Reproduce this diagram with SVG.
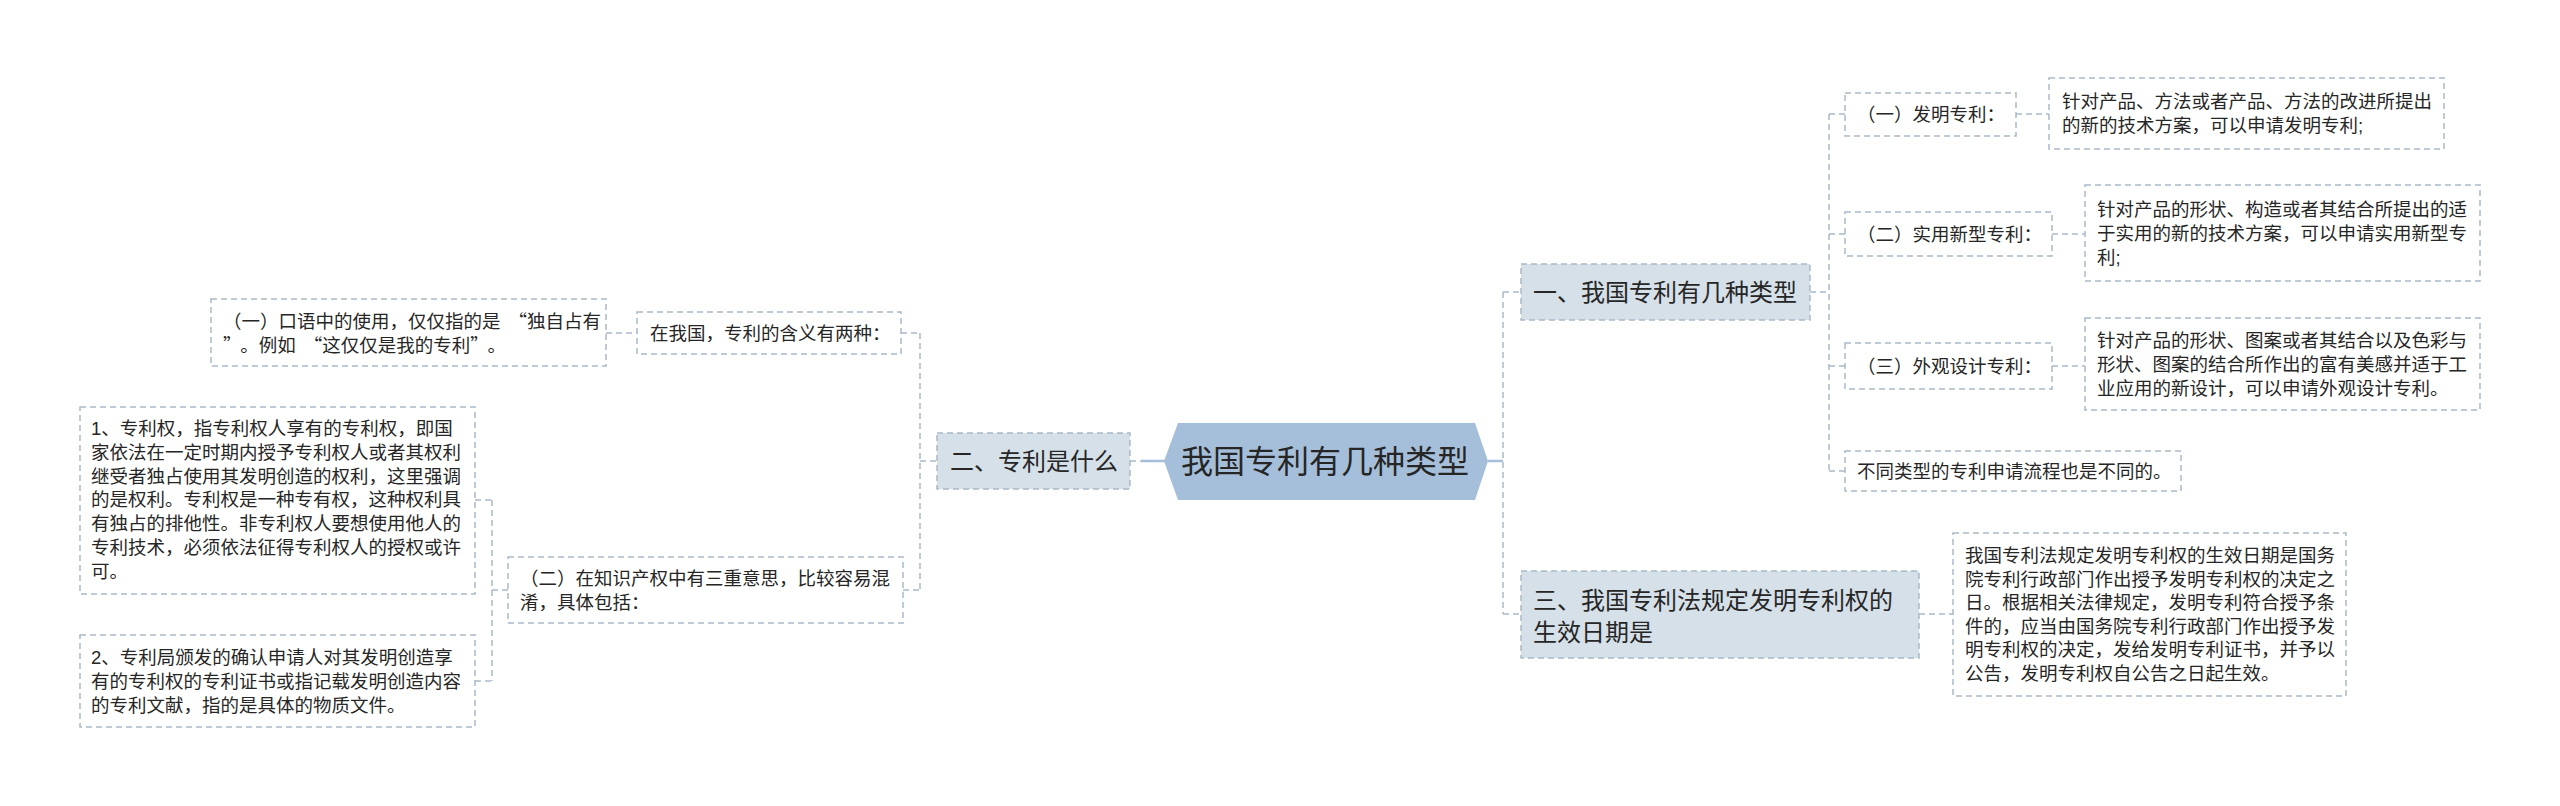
<svg xmlns="http://www.w3.org/2000/svg" width="2560" height="806" viewBox="0 0 2560 806">
<style>
text{font-family:'Liberation Sans','Noto Sans CJK SC',sans-serif;fill:#262626;}
.q{font-family:'Noto Sans CJK SC','Liberation Sans',sans-serif;}
.t{font-size:18.5px;}
.l1{font-size:24px;}
.root{font-size:32px;}
.leaf{fill:#ffffff;stroke:#a9b9c8;stroke-width:1.5;stroke-dasharray:6 4;}
.mid{fill:#d5e0e9;stroke:#a9b9c8;stroke-width:1.5;stroke-dasharray:6 4;}
.c{fill:none;stroke:#a9b9c8;stroke-width:1.5;stroke-dasharray:6 4;}
.s{fill:none;stroke:#a5bfda;stroke-width:2.5;}
</style>
<rect width="2560" height="806" fill="#ffffff"/>
<g id="connectors">
<path class="s" d="M1141,461 H1165"/>
<path class="c" d="M1130,461 H1141"/>
<path class="s" d="M1488,461 H1503"/>
<path class="c" d="M1503,292 V614 M1503,292 H1521 M1503,614 H1521"/>
<path class="c" d="M920,333 V590 M920,461 H937 M901,333 H920 M903,590 H920"/>
<path class="c" d="M606,333 H637"/>
<path class="c" d="M492,500 V681 M475,500 H492 M475,681 H492 M492,590 H508"/>
<path class="c" d="M1810,292 H1829 M1829,114 V471 M1829,114 H1845 M1829,234 H1845 M1829,366 H1845 M1829,471 H1845"/>
<path class="c" d="M2016,114 H2049 M2052,234 H2085 M2052,366 H2085"/>
<path class="c" d="M1919,614 H1953"/>
</g>
<g id="root">
<polygon points="1164,461 1178,423 1475,423 1488,461 1475,500 1178,500" fill="#a5bfda"/>
<text class="root" x="1181" y="473">我国专利有几种类型</text>
</g>
<g id="n2">
<rect class="mid" x="937" y="433" width="193" height="56"/>
<text class="l1" x="950" y="470">二、专利是什么</text>
</g>
<g id="n2a">
<rect class="leaf" x="637" y="312" width="264" height="42"/>
<text class="t" x="650" y="340">在我国，专利的含义有两种：</text>
</g>
<g id="n2a1">
<rect class="leaf" x="211" y="299" width="395" height="67"/>
<text class="t q" x="223" y="328">（一）口语中的使用，仅仅指的是<tspan dx="8">“</tspan>独自占有</text>
<text class="t q" x="223" y="352">”<tspan dx="8">。</tspan>例如<tspan dx="8">“</tspan>这仅仅是我的专利”<tspan dx="8">。</tspan></text>
</g>
<g id="n2b">
<rect class="leaf" x="508" y="557" width="395" height="66"/>
<text class="t" x="520" y="585">（二）在知识产权中有三重意思，比较容易混</text>
<text class="t" x="520" y="609">淆，具体包括：</text>
</g>
<g id="n2b1">
<rect class="leaf" x="80" y="407" width="395" height="187"/>
<text class="t" x="91" y="435">1、专利权，指专利权人享有的专利权，即国</text>
<text class="t" x="91" y="459">家依法在一定时期内授予专利权人或者其权利</text>
<text class="t" x="91" y="483">继受者独占使用其发明创造的权利，这里强调</text>
<text class="t" x="91" y="506">的是权利。专利权是一种专有权，这种权利具</text>
<text class="t" x="91" y="530">有独占的排他性。非专利权人要想使用他人的</text>
<text class="t" x="91" y="554">专利技术，必须依法征得专利权人的授权或许</text>
<text class="t" x="91" y="578">可。</text>
</g>
<g id="n2b2">
<rect class="leaf" x="80" y="635" width="395" height="92"/>
<text class="t" x="91" y="664">2、专利局颁发的确认申请人对其发明创造享</text>
<text class="t" x="91" y="688">有的专利权的专利证书或指记载发明创造内容</text>
<text class="t" x="91" y="712">的专利文献，指的是具体的物质文件。</text>
</g>
<g id="n1">
<rect class="mid" x="1521" y="264" width="289" height="56"/>
<text class="l1" x="1533" y="301">一、我国专利有几种类型</text>
</g>
<g id="n1a">
<rect class="leaf" x="1845" y="93" width="171" height="43"/>
<text class="t" x="1857" y="121">（一）发明专利：</text>
</g>
<g id="n1a1">
<rect class="leaf" x="2049" y="78" width="395" height="71"/>
<text class="t" x="2062" y="108">针对产品、方法或者产品、方法的改进所提出</text>
<text class="t" x="2062" y="132">的新的技术方案，可以申请发明专利;</text>
</g>
<g id="n1b">
<rect class="leaf" x="1845" y="212" width="207" height="44"/>
<text class="t" x="1857" y="241">（二）实用新型专利：</text>
</g>
<g id="n1b1">
<rect class="leaf" x="2085" y="185" width="395" height="96"/>
<text class="t" x="2097" y="216">针对产品的形状、构造或者其结合所提出的适</text>
<text class="t" x="2097" y="240">于实用的新的技术方案，可以申请实用新型专</text>
<text class="t" x="2097" y="264">利;</text>
</g>
<g id="n1c">
<rect class="leaf" x="1845" y="343" width="207" height="46"/>
<text class="t" x="1857" y="373">（三）外观设计专利：</text>
</g>
<g id="n1c1">
<rect class="leaf" x="2085" y="318" width="395" height="92"/>
<text class="t" x="2097" y="347">针对产品的形状、图案或者其结合以及色彩与</text>
<text class="t" x="2097" y="371">形状、图案的结合所作出的富有美感并适于工</text>
<text class="t" x="2097" y="395">业应用的新设计，可以申请外观设计专利。</text>
</g>
<g id="n1d">
<rect class="leaf" x="1845" y="451" width="336" height="40"/>
<text class="t" x="1857" y="478">不同类型的专利申请流程也是不同的。</text>
</g>
<g id="n3">
<rect class="mid" x="1521" y="571" width="398" height="87"/>
<text class="l1" x="1533" y="609">三、我国专利法规定发明专利权的</text>
<text class="l1" x="1533" y="641">生效日期是</text>
</g>
<g id="n3a">
<rect class="leaf" x="1953" y="533" width="393" height="163"/>
<text class="t" x="1965" y="562">我国专利法规定发明专利权的生效日期是国务</text>
<text class="t" x="1965" y="586">院专利行政部门作出授予发明专利权的决定之</text>
<text class="t" x="1965" y="609">日。根据相关法律规定，发明专利符合授予条</text>
<text class="t" x="1965" y="633">件的，应当由国务院专利行政部门作出授予发</text>
<text class="t" x="1965" y="656">明专利权的决定，发给发明专利证书，并予以</text>
<text class="t" x="1965" y="680">公告，发明专利权自公告之日起生效。</text>
</g>
</svg>
